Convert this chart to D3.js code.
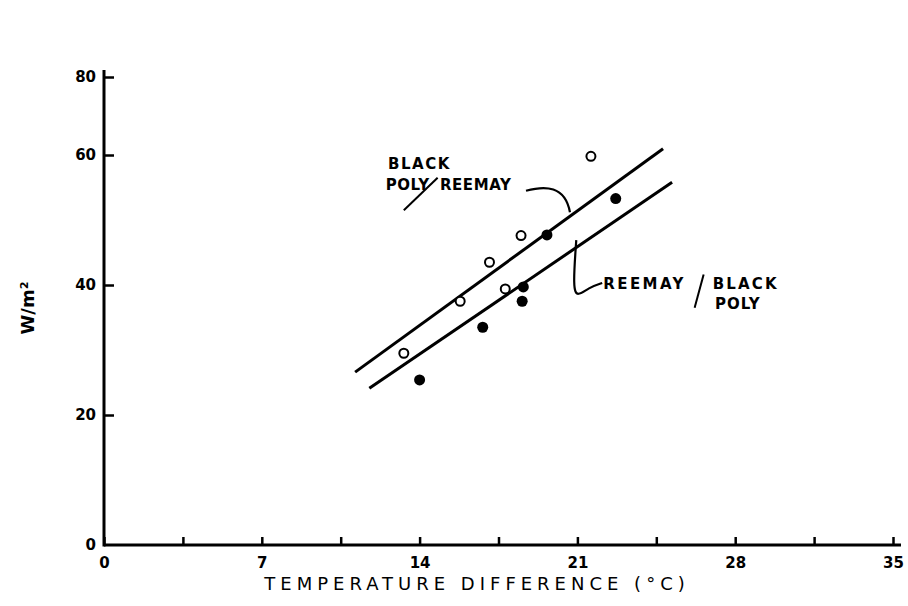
<!DOCTYPE html>
<html>
<head>
<meta charset="utf-8">
<script src="https://cdn.jsdelivr.net/npm/d3@7"></script>
<style>
  html, body { margin: 0; padding: 0; background: #fff; }
  svg { display: block; }
  text { font-family: "DejaVu Sans", sans-serif; font-weight: bold; fill: #000; }
</style>
</head>
<body>
<script>
// ---- data ----
const xTicks = [0, 3.5, 7, 10.5, 14, 17.5, 21, 24.5, 28, 31.5, 35];
const xTickLabels = ["0", "", "7", "", "14", "", "21", "", "28", "", "35"];
const yTicks = [0, 20, 40, 60, 80];
const yTickLabels = ["0", "20", "40", "60", "80"];

// open circles: Black Poly / Reemay
const openX = [13.3, 15.8, 17.1, 17.8, 18.5, 21.6];
const openY = [29.5, 37.5, 43.5, 39.4, 47.6, 59.8];
// filled circles: Reemay / Black Poly
const filledX = [14.0, 16.8, 18.55, 18.6, 19.65, 22.7];
const filledY = [25.4, 33.5, 37.5, 39.7, 47.7, 53.3];

// fitted lines (endpoints)
const upperLineX = [11.14, 24.8];
const upperLineY = [26.6, 61.6];
const lowerLineX = [11.77, 25.2];
const lowerLineY = [24.1, 55.8];

const xTitle = "TEMPERATURE  DIFFERENCE  (\u00B0C)";
const yTitle = "W/m\u00B2";

// ---- drawing ----
const W = 908, H = 606;
const svg = d3.select("body").append("svg").attr("width", W).attr("height", H);

const x = d3.scaleLinear().domain([0, 35]).range([104, 893]);
// drawn axis in the reference is compressed above 60
const y = d3.scaleLinear().domain([0, 60, 80]).range([545, 155, 77]);

const ink = "#000";

// axes lines
svg.append("line").attr("x1", x(0)).attr("x2", x(35) + 8)
  .attr("y1", y(0)).attr("y2", y(0)).attr("stroke", ink).attr("stroke-width", 3);
svg.append("line").attr("x1", x(0)).attr("x2", x(0))
  .attr("y1", y(0) + 1.5).attr("y2", y(80) - 7).attr("stroke", ink).attr("stroke-width", 3);

// x ticks (pointing up)
const xAxis = d3.axisBottom(x).tickValues(xTicks).tickSize(-8).tickPadding(12)
  .tickFormat((d, i) => xTickLabels[i]);
const gx = svg.append("g").attr("transform", `translate(0,${y(0)})`).call(xAxis);
gx.select(".domain").remove();
gx.selectAll(".tick line").attr("stroke", ink).attr("stroke-width", 2.5);
gx.selectAll(".tick text").attr("font-size", 15).attr("font-family", "DejaVu Sans").attr("font-weight", "bold").attr("fill", ink);

// y ticks (pointing right)
const yAxis = d3.axisLeft(y).tickValues(yTicks).tickSize(-10).tickPadding(8)
  .tickFormat((d, i) => yTickLabels[i]);
const gy = svg.append("g").attr("transform", `translate(${x(0)},0)`).call(yAxis);
gy.select(".domain").remove();
gy.selectAll(".tick line").attr("stroke", ink).attr("stroke-width", 2.5)
  .filter(d => d === 0).remove();
gy.selectAll(".tick text").attr("font-size", 15).attr("font-family", "DejaVu Sans").attr("font-weight", "bold").attr("fill", ink);

// fitted lines
const line = d3.line().x(d => x(d[0])).y(d => y(d[1]));
svg.append("path").datum(upperLineX.map((v, i) => [v, upperLineY[i]]))
  .attr("d", line).attr("fill", "none").attr("stroke", ink).attr("stroke-width", 3);
svg.append("path").datum(lowerLineX.map((v, i) => [v, lowerLineY[i]]))
  .attr("d", line).attr("fill", "none").attr("stroke", ink).attr("stroke-width", 3);

// points
svg.selectAll("circle.open").data(openX.map((v, i) => [v, openY[i]])).enter()
  .append("circle").attr("class", "open")
  .attr("cx", d => x(d[0])).attr("cy", d => y(d[1])).attr("r", 4.5)
  .attr("fill", "#fff").attr("stroke", ink).attr("stroke-width", 2);
svg.selectAll("circle.filled").data(filledX.map((v, i) => [v, filledY[i]])).enter()
  .append("circle").attr("class", "filled")
  .attr("cx", d => x(d[0])).attr("cy", d => y(d[1])).attr("r", 5.5)
  .attr("fill", ink);

// axis titles
svg.append("text").attr("x", 477).attr("y", 590)
  .attr("text-anchor", "middle").attr("font-size", 18).attr("letter-spacing", 5)
  .style("font-weight", "normal").text(xTitle);
svg.append("text").attr("transform", `translate(34,308) rotate(-90)`)
  .attr("text-anchor", "middle").attr("font-size", 18).text(yTitle);

// annotations
const ann = svg.append("g");
ann.append("text").attr("x", x(12.6)).attr("y", y(57.9)).attr("font-size", 15)
  .attr("letter-spacing", 1.5).text("BLACK");
ann.append("text").attr("x", x(12.5)).attr("y", y(54.6)).attr("font-size", 15)
  .attr("letter-spacing", 0.5).text("POLY");
ann.append("line").attr("x1", x(13.3)).attr("y1", y(51.5)).attr("x2", x(14.8)).attr("y2", y(56.5))
  .attr("stroke", ink).attr("stroke-width", 2);
ann.append("text").attr("x", x(14.9)).attr("y", y(54.6)).attr("font-size", 15)
  .attr("letter-spacing", 0.6).text("REEMAY");

const leader1 = [[18.72, 54.5], [19.57, 55.3], [20.45, 55.3], [20.67, 51.2]];
ann.append("path")
  .attr("d", `M${x(leader1[0][0])},${y(leader1[0][1])} C${x(leader1[1][0])},${y(leader1[1][1])} ${x(leader1[2][0])},${y(leader1[2][1])} ${x(leader1[3][0])},${y(leader1[3][1])}`)
  .attr("fill", "none").attr("stroke", ink).attr("stroke-width", 2.2);

const leader2 = [[20.95, 46.9], [20.8, 39.5], [21.0, 38.2], [21.5, 39.6], [22.1, 40.3]];
ann.append("path").datum(leader2)
  .attr("d", d3.line().x(d => x(d[0])).y(d => y(d[1])).curve(d3.curveBasis))
  .attr("fill", "none").attr("stroke", ink).attr("stroke-width", 2.2);

ann.append("text").attr("x", x(22.15)).attr("y", y(39.4)).attr("font-size", 15)
  .attr("letter-spacing", 2.4).text("REEMAY");
ann.append("line").attr("x1", x(26.2)).attr("y1", y(36.5)).attr("x2", x(26.6)).attr("y2", y(41.6))
  .attr("stroke", ink).attr("stroke-width", 2);
ann.append("text").attr("x", x(27.0)).attr("y", y(39.4)).attr("font-size", 15)
  .attr("letter-spacing", 2.2).text("BLACK");
ann.append("text").attr("x", x(27.1)).attr("y", y(36.3)).attr("font-size", 15)
  .attr("letter-spacing", 1).text("POLY");
</script>
</body>
</html>
